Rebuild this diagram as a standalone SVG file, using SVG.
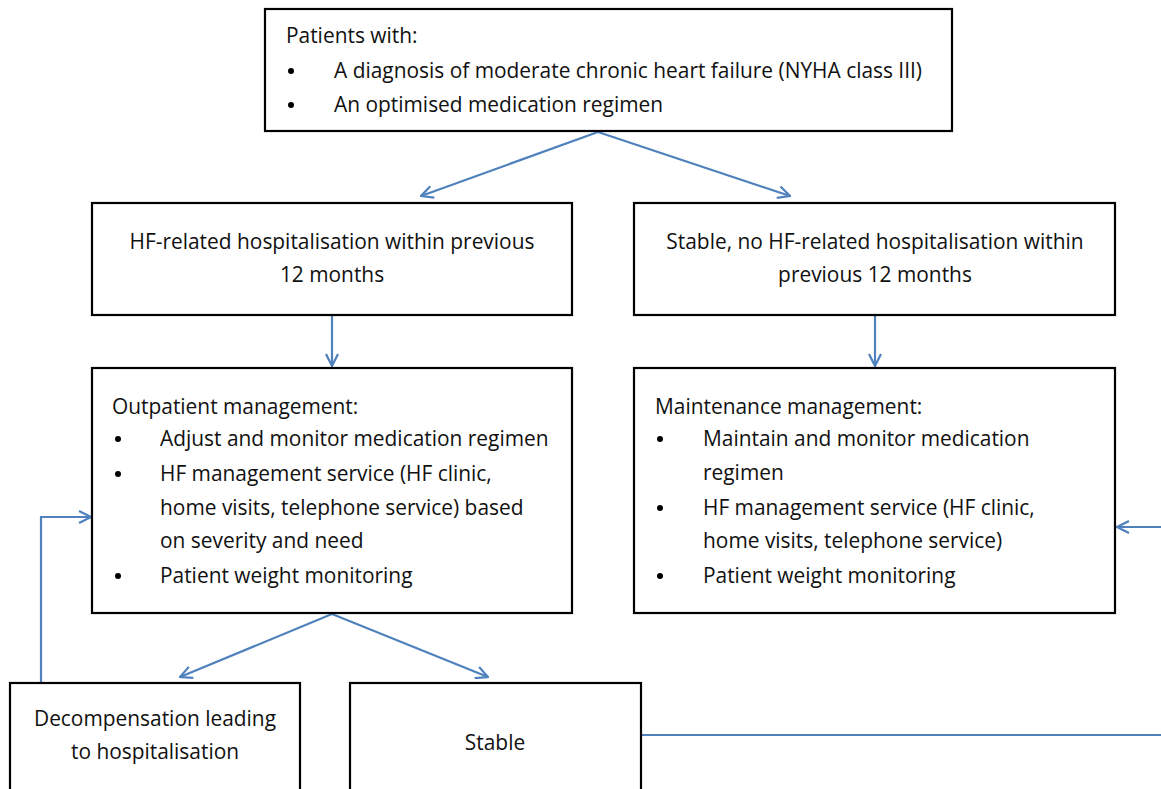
<svg xmlns="http://www.w3.org/2000/svg" width="1161" height="789" viewBox="0 0 1161 789">
  <style>
    .box { fill: #ffffff; stroke: #000000; stroke-width: 2.2; }
    .t { font-family: "Open Sans", "Liberation Sans", Arial, sans-serif; font-size: 20.9px; fill: #111111; }
    .c { text-anchor: middle; }
    .bul { fill: #000000; }
    .link { fill: none; stroke: #4F81BD; stroke-width: 2.2; }
  </style>
  <defs>
    <marker id="arrow" viewBox="0 0 14 14" refX="13" refY="7" markerWidth="14" markerHeight="14" markerUnits="userSpaceOnUse" orient="auto">
      <path d="M1,1 L13,7 L1,13" fill="none" stroke="#4F81BD" stroke-width="2.2"/>
    </marker>
  </defs>

  <rect width="1161" height="789" fill="#ffffff"/>

  <g id="connectors">
    <line class="link" x1="598" y1="132" x2="421" y2="196" marker-end="url(#arrow)"/>
    <line class="link" x1="598" y1="132" x2="790" y2="196" marker-end="url(#arrow)"/>
    <line class="link" x1="332" y1="316" x2="332" y2="366" marker-end="url(#arrow)"/>
    <line class="link" x1="875" y1="316" x2="875" y2="366" marker-end="url(#arrow)"/>
    <line class="link" x1="332" y1="614" x2="180" y2="677" marker-end="url(#arrow)"/>
    <line class="link" x1="332" y1="614" x2="488" y2="677" marker-end="url(#arrow)"/>
    <polyline class="link" points="41,683 41,517 91,517" marker-end="url(#arrow)"/>
    <line class="link" x1="642" y1="735" x2="1161" y2="735"/>
    <line class="link" x1="1161" y1="527" x2="1117" y2="527" marker-end="url(#arrow)"/>
  </g>

  <g id="patients">
    <rect class="box" x="265" y="9" width="687" height="122"/>
    <text class="t" x="286" y="43">Patients with:</text>
    <circle class="bul" cx="291" cy="71" r="3"/>
    <text class="t" x="334" y="78">A diagnosis of moderate chronic heart failure (NYHA class III)</text>
    <circle class="bul" cx="291" cy="105" r="3"/>
    <text class="t" x="334" y="112">An optimised medication regimen</text>
  </g>

  <g id="hospitalised">
    <rect class="box" x="92" y="203" width="480" height="112"/>
    <text class="t c" x="332" y="249">HF-related hospitalisation within previous</text>
    <text class="t c" x="332" y="282">12 months</text>
  </g>

  <g id="stable-no-hosp">
    <rect class="box" x="634" y="203" width="481" height="112"/>
    <text class="t c" x="875" y="249">Stable, no HF-related hospitalisation within</text>
    <text class="t c" x="875" y="282">previous 12 months</text>
  </g>

  <g id="outpatient">
    <rect class="box" x="92" y="368" width="480" height="245"/>
    <text class="t" x="112" y="414">Outpatient management:</text>
    <circle class="bul" cx="118" cy="439" r="3"/>
    <text class="t" x="160" y="446">Adjust and monitor medication regimen</text>
    <circle class="bul" cx="118" cy="474" r="3"/>
    <text class="t" x="160" y="481">HF management service (HF clinic,</text>
    <text class="t" x="160" y="515">home visits, telephone service) based</text>
    <text class="t" x="160" y="548">on severity and need</text>
    <circle class="bul" cx="118" cy="576" r="3"/>
    <text class="t" x="160" y="583">Patient weight monitoring</text>
  </g>

  <g id="maintenance">
    <rect class="box" x="634" y="368" width="481" height="245"/>
    <text class="t" x="655" y="414">Maintenance management:</text>
    <circle class="bul" cx="660" cy="439" r="3"/>
    <text class="t" x="703" y="446">Maintain and monitor medication</text>
    <text class="t" x="703" y="480">regimen</text>
    <circle class="bul" cx="660" cy="508" r="3"/>
    <text class="t" x="703" y="515">HF management service (HF clinic,</text>
    <text class="t" x="703" y="548">home visits, telephone service)</text>
    <circle class="bul" cx="660" cy="576" r="3"/>
    <text class="t" x="703" y="583">Patient weight monitoring</text>
  </g>

  <g id="decompensation">
    <rect class="box" x="10" y="683" width="290" height="120"/>
    <text class="t c" x="155" y="726">Decompensation leading</text>
    <text class="t c" x="155" y="759">to hospitalisation</text>
  </g>

  <g id="stable">
    <rect class="box" x="350" y="683" width="291" height="120"/>
    <text class="t c" x="495" y="750">Stable</text>
  </g>
</svg>
